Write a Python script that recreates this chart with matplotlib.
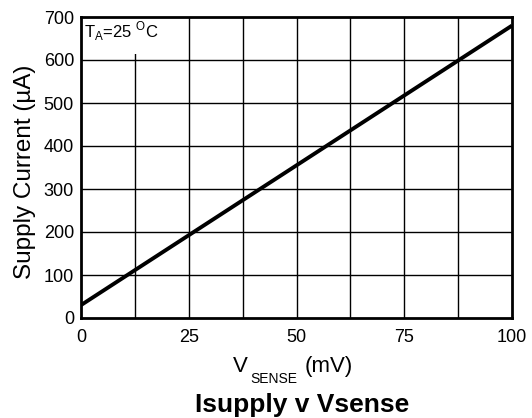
import matplotlib
matplotlib.use("Agg")
import matplotlib.pyplot as plt
from matplotlib.patches import Rectangle

plt.rcParams['font.family'] = ['Liberation Sans', 'DejaVu Sans']
plt.rcParams['mathtext.fontset'] = 'custom'
plt.rcParams['mathtext.rm'] = 'Liberation Sans'

vsense = [0, 100]
isupply = [30, 680]
xticks = [0, 25, 50, 75, 100]
yticks = [0, 100, 200, 300, 400, 500, 600, 700]
xgrid = [12.5, 25, 37.5, 50, 62.5, 75, 87.5]

W, H = 532, 418
fig = plt.figure(figsize=(W/100, H/100), dpi=100)
ax = fig.add_axes([81/W, 1-318/H, 431/W, 301/H])
ax.set_xlim(0, 100)
ax.set_ylim(0, 700)
for g in xgrid:
    ax.axvline(g, color='black', lw=1.0, zorder=1)
for g in yticks[1:-1]:
    ax.axhline(g, color='black', lw=1.0, zorder=1)
ax.plot(vsense, isupply, color='black', lw=2.8, zorder=3, solid_capstyle='butt')
ax.set_xticks(xticks)
ax.set_yticks(yticks)
ax.tick_params(length=0, labelsize=13)
ax.tick_params(axis='x', pad=8)
ax.tick_params(axis='y', pad=5)
for s in ax.spines.values():
    s.set_linewidth(2)
    s.set_zorder(4)
ax.add_patch(Rectangle((0, 614), 22, 86, facecolor='white', edgecolor='none', zorder=2))
ax.text(0.6, 666, r'T$_{\mathregular{A}}$=25 $^{\mathregular{O}}$C', fontsize=12, va='center', ha='left',
        zorder=2.5)

def px(x, y):
    return x / W, 1 - y / H

fig.text(*px(233, 372), 'V', fontsize=16, ha='left', va='baseline')
fig.text(*px(250, 383), 'SENSE', fontsize=10, ha='left', va='baseline')
fig.text(*px(305, 372), '(mV)', fontsize=16, ha='left', va='baseline')
fig.text(*px(25, 172), 'Supply Current (µA)', fontsize=17.5, rotation=90, ha='center', va='center')
fig.text(*px(302, 412), 'Isupply v Vsense', fontsize=19, fontweight='bold', ha='center', va='baseline')
fig.savefig('out.png', dpi=100)
